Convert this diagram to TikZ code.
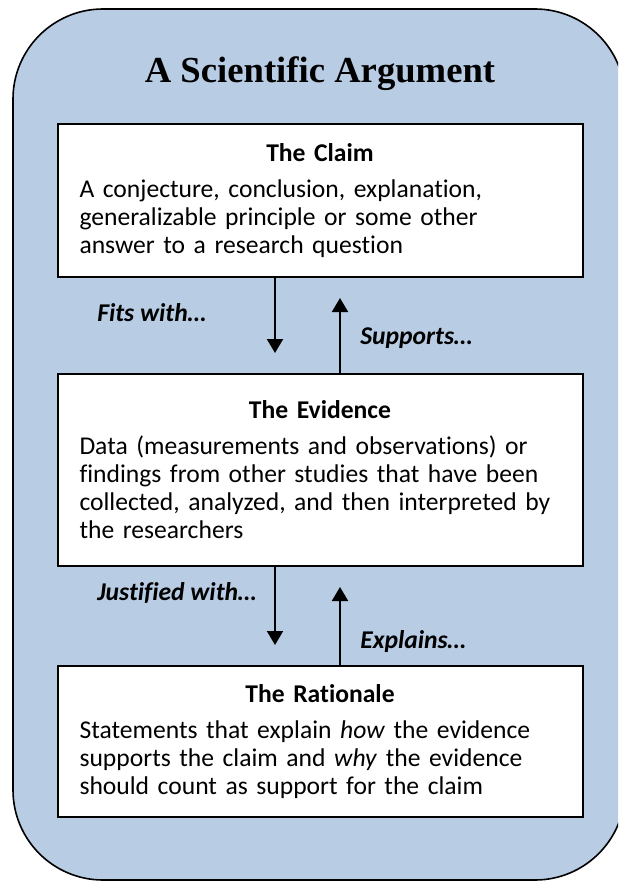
\documentclass[tikz,border=0pt]{standalone}
\usepackage{fontspec}
\setmainfont{Carlito}[Ligatures=NoCommon]
\newfontfamily\titlefont{Liberation Serif}
\usetikzlibrary{arrows.meta,positioning}
\definecolor{argblue}{HTML}{B8CCE4}

\tikzset{
    part/.style={draw, line width=1.5pt, fill=white, minimum width=393.75pt,
        text width=360.75pt, inner xsep=16.5pt, align=left,
        font=\fontsize{19.2}{21}\selectfont},
    link/.style={line width=1.5pt, -{Triangle[width=12pt,length=10.5pt]}, shorten >=15pt},
    linklabel/.style={anchor=west, inner sep=0pt, font=\fontsize{19.2}{21}\selectfont\bfseries\itshape}
}

\begin{document}
\begin{tikzpicture}[x=0.75pt,y=-0.75pt]
    \useasboundingbox (0,0) rectangle (618,881);
    \clip (0,0) rectangle (618,881);
    \draw[fill=argblue, line width=1.2pt, rounded corners=67.5pt] (13,9) rectangle (625,880);

    \node[font={\titlefont\bfseries\fontsize{27.5}{33}\selectfont}] (title) at (320,74) {A Scientific Argument};

    \node[part, minimum height=114.75pt] (claim) at (320,200.5) {\centerline{\textbf{The Claim}}\vspace{6pt}
        A conjecture, conclusion, explanation,\\ generalizable principle or some other\\ answer to a research question};
    \node[part, minimum height=144pt] (evidence) at (320,470) {\centerline{\textbf{The Evidence}}\vspace{6pt}
        Data (measurements and observations) or\\ findings from other studies that have been\\ collected, analyzed, and then interpreted by\\ the researchers};
    \node[part, minimum height=113.25pt] (rationale) at (320,741.5) {\centerline{\textbf{The Rationale}}\vspace{6pt}
        Statements that explain \textit{how} the evidence\\ supports the claim and \textit{why} the evidence\\ should count as support for the claim};

    \draw[link] ([xshift=-33.75pt]claim.south) -- ([xshift=-33.75pt]evidence.north);
    \draw[link] ([xshift=15pt]evidence.north) -- ([xshift=15pt]claim.south);
    \draw[link] ([xshift=-33.75pt]evidence.south) -- ([xshift=-33.75pt]rationale.north);
    \draw[link] ([xshift=15pt]rationale.north) -- ([xshift=15pt]evidence.south);

    \node[linklabel] (fits) at (97,313) {Fits with…};
    \node[linklabel] (supports) at (360,338) {Supports…};
    \node[linklabel] (justified) at (97,593) {Justified with…};
    \node[linklabel] (explains) at (360,642) {Explains…};
\end{tikzpicture}
\end{document}
